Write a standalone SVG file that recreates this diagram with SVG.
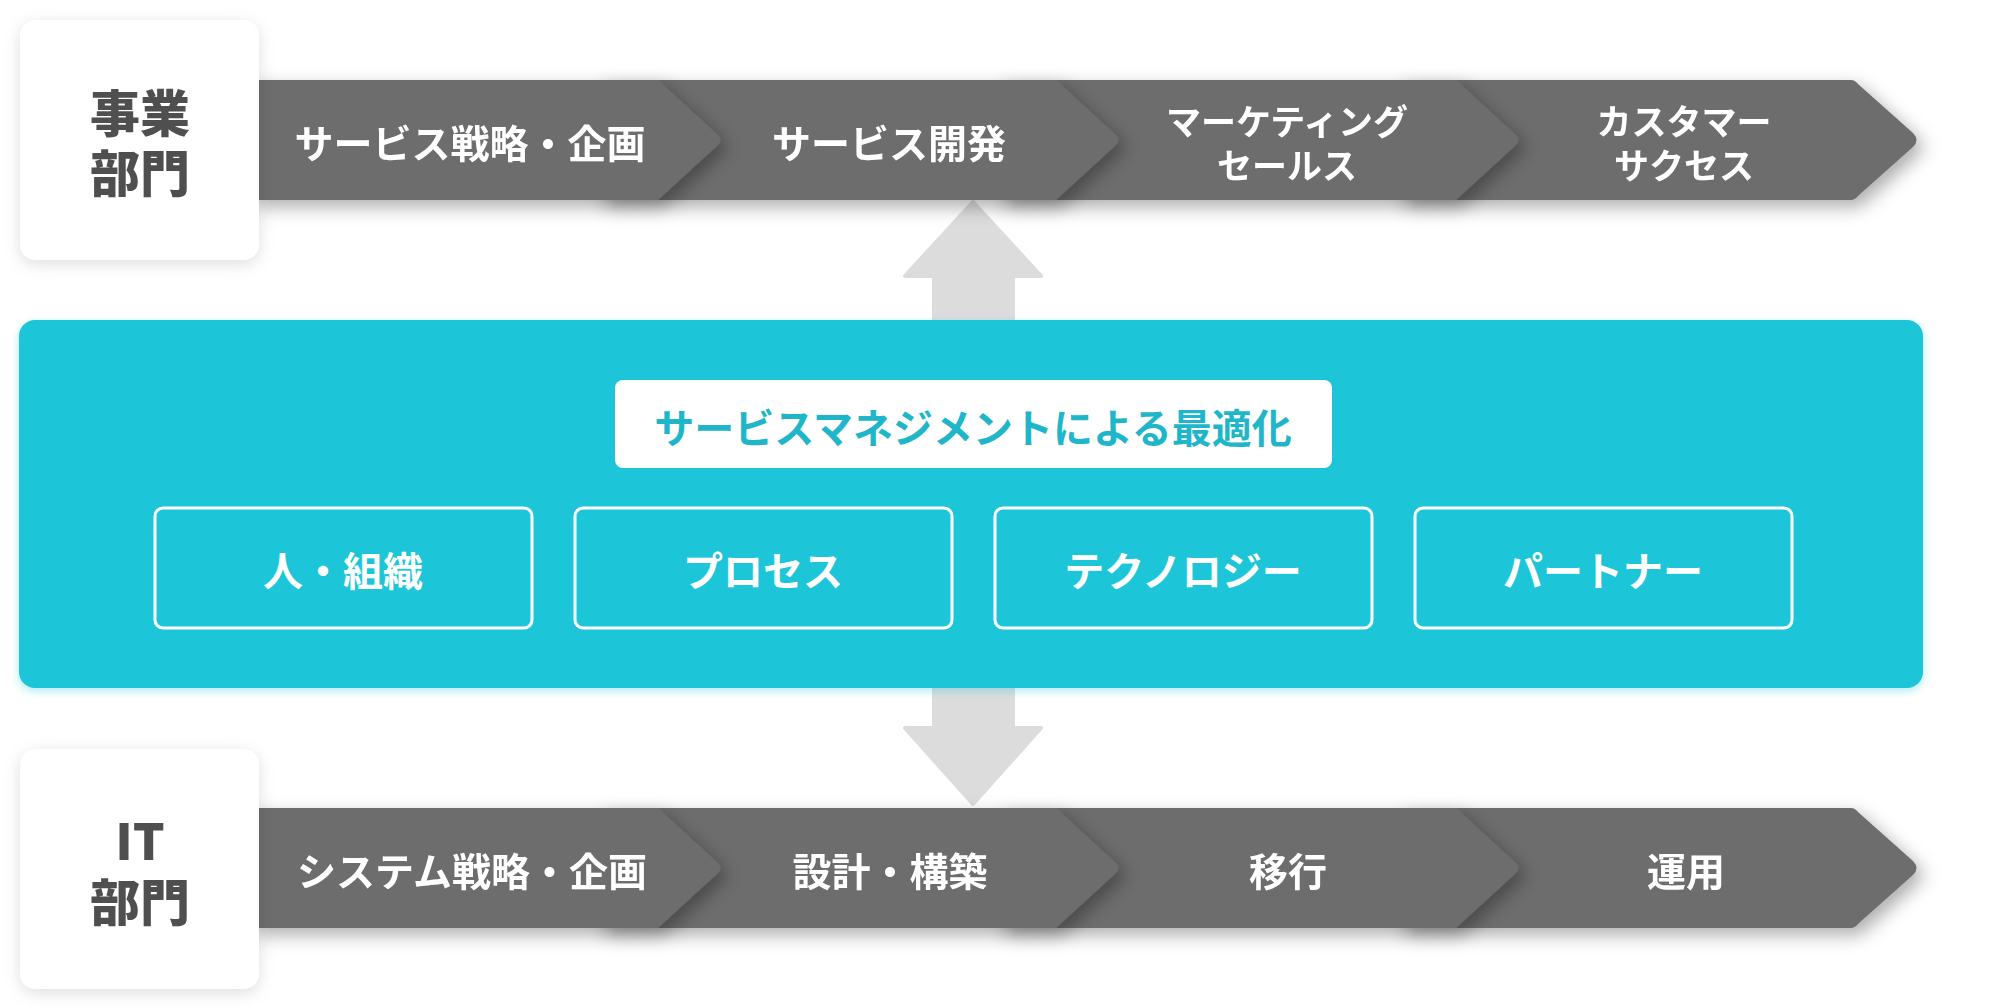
<svg xmlns="http://www.w3.org/2000/svg" width="2000" height="1008" viewBox="0 0 2000 1008">
<defs>
<filter id="segShadow" x="-10%" y="-40%" width="130%" height="200%">
<feDropShadow dx="6" dy="7" stdDeviation="9" flood-color="#000" flood-opacity="0.32"/>
</filter>
<filter id="cardShadow" x="-20%" y="-20%" width="140%" height="140%">
<feDropShadow dx="0" dy="4" stdDeviation="8" flood-color="#000" flood-opacity="0.13"/>
</filter>
<filter id="tealShadow" x="-5%" y="-10%" width="110%" height="120%">
<feDropShadow dx="0" dy="3" stdDeviation="4" flood-color="#1cc6d8" flood-opacity="0.35"/>
</filter>
<style>
.seg{fill:#6d6d6d;}
.card{fill:#ffffff;}
.cardtxt{font-family:"Noto Sans CJK JP","Noto Sans",sans-serif;font-weight:900;font-size:50px;fill:#4f4f4f;text-anchor:middle;}
.segtxt{font-family:"Noto Sans CJK JP","Noto Sans",sans-serif;font-weight:700;font-size:39px;fill:#ffffff;text-anchor:middle;}
.segtxt2{font-family:"Noto Sans CJK JP","Noto Sans",sans-serif;font-weight:700;font-size:35px;fill:#ffffff;text-anchor:middle;}
.teal{fill:#1cc6d8;}
.title{font-family:"Noto Sans CJK JP","Noto Sans",sans-serif;font-weight:700;font-size:40px;fill:#1fb6ca;text-anchor:middle;}
.pill{fill:none;stroke:#ffffff;stroke-width:3;}
.pilltxt{font-family:"Noto Sans CJK JP","Noto Sans",sans-serif;font-weight:700;font-size:40px;fill:#ffffff;text-anchor:middle;}
.arrow{fill:#dcdcdc;stroke:#dcdcdc;stroke-width:4;stroke-linejoin:round;}
</style>
</defs>
<rect width="2000" height="1008" fill="#ffffff"/>

<g id="connectors">
<path class="arrow" d="M973 202 L1041 276 L1013 276 L1013 330 L934 330 L934 276 L905 276 Z"/>
<path class="arrow" d="M934 680 L1013 680 L1013 728 L1041 728 L973 804 L905 728 L934 728 Z"/>
</g>

<g id="top-bar">
<g id="top-seg4" filter="url(#segShadow)"><path class="seg" d="M1400 80 H1851 Q1855 80 1858 84 L1913 133 Q1920 140 1913 147 L1858 196 Q1855 200 1851 200 H1400 Z"/><text class="segtxt2" x="1684" y="135">カスタマー</text><text class="segtxt2" x="1684" y="179">サクセス</text></g>
<g id="top-seg3" filter="url(#segShadow)"><path class="seg" d="M1000 80 H1456 L1516 135 Q1521 140 1516 145 L1456 200 H1000 Z"/><text class="segtxt2" x="1287" y="135">マーケティング</text><text class="segtxt2" x="1287" y="179">セールス</text></g>
<g id="top-seg2" filter="url(#segShadow)"><path class="seg" d="M600 80 H1056 L1116 135 Q1121 140 1116 145 L1056 200 H600 Z"/><text class="segtxt" x="889" y="158">サービス開発</text></g>
<g id="top-seg1" filter="url(#segShadow)"><path class="seg" d="M250 80 H658 L718 135 Q723 140 718 145 L658 200 H250 Z"/><text class="segtxt" x="470" y="158">サービス戦略・企画</text></g>
</g>

<g id="top-label" filter="url(#cardShadow)">
<rect class="card" x="20" y="20" width="239" height="240" rx="16"/>
<text class="cardtxt" x="140" y="132">事業</text>
<text class="cardtxt" x="140" y="192">部門</text>
</g>

<g id="center-panel">
<rect class="teal" x="19" y="320" width="1904" height="368" rx="16" filter="url(#tealShadow)"/>
<g id="title"><rect x="615" y="380" width="717" height="88" rx="8" fill="#ffffff"/><text class="title" x="973" y="443">サービスマネジメントによる最適化</text></g>
<g id="node-people"><rect class="pill" x="155" y="508" width="377" height="120" rx="8"/><text class="pilltxt" x="343" y="586">人・組織</text></g>
<g id="node-process"><rect class="pill" x="575" y="508" width="377" height="120" rx="8"/><text class="pilltxt" x="763" y="586">プロセス</text></g>
<g id="node-tech"><rect class="pill" x="995" y="508" width="377" height="120" rx="8"/><text class="pilltxt" x="1183" y="586">テクノロジー</text></g>
<g id="node-partner"><rect class="pill" x="1415" y="508" width="377" height="120" rx="8"/><text class="pilltxt" x="1603" y="586">パートナー</text></g>
</g>

<g id="bottom-bar">
<g id="bot-seg4" filter="url(#segShadow)"><path class="seg" d="M1400 808 H1851 Q1855 808 1858 812 L1913 861 Q1920 868 1913 875 L1858 924 Q1855 928 1851 928 H1400 Z"/><text class="segtxt" x="1686" y="886">運用</text></g>
<g id="bot-seg3" filter="url(#segShadow)"><path class="seg" d="M1000 808 H1456 L1516 863 Q1521 868 1516 873 L1456 928 H1000 Z"/><text class="segtxt" x="1288" y="886">移行</text></g>
<g id="bot-seg2" filter="url(#segShadow)"><path class="seg" d="M600 808 H1056 L1116 863 Q1121 868 1116 873 L1056 928 H600 Z"/><text class="segtxt" x="890" y="886">設計・構築</text></g>
<g id="bot-seg1" filter="url(#segShadow)"><path class="seg" d="M250 808 H658 L718 863 Q723 868 718 873 L658 928 H250 Z"/><text class="segtxt" x="472" y="886">システム戦略・企画</text></g>
</g>

<g id="bottom-label" filter="url(#cardShadow)">
<rect class="card" x="20" y="749" width="239" height="240" rx="16"/>
<text class="cardtxt" x="140" y="860">IT</text>
<text class="cardtxt" x="140" y="921">部門</text>
</g>
</svg>
